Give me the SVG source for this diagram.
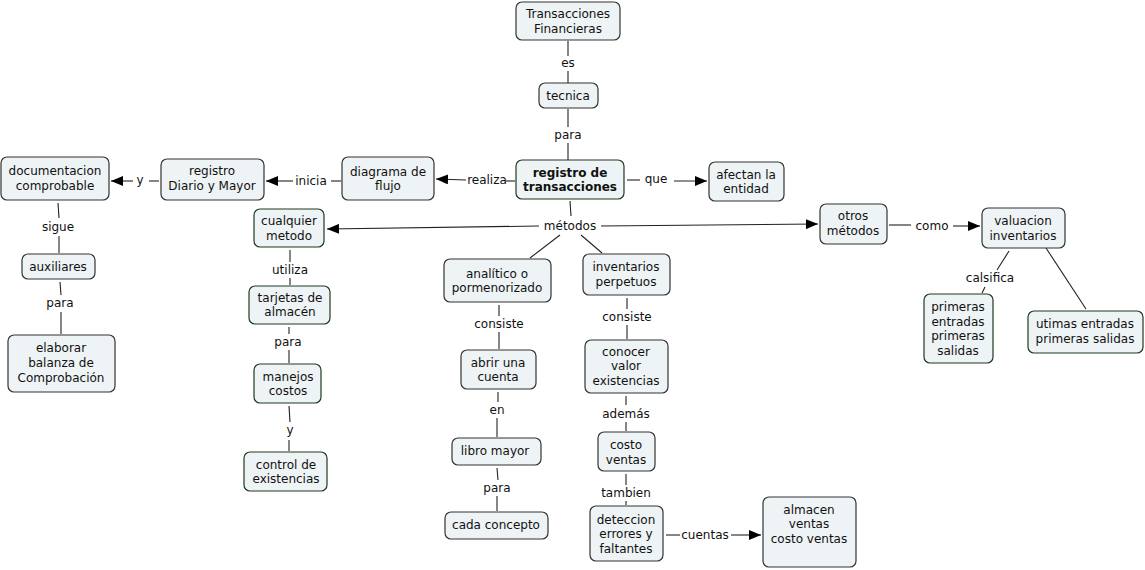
<svg xmlns="http://www.w3.org/2000/svg" width="1145" height="570" viewBox="0 0 1145 570">
<defs>
<marker id="arr" viewBox="0 0 12 10" refX="12" refY="5" markerWidth="12" markerHeight="10" markerUnits="userSpaceOnUse" orient="auto">
<path d="M0,0 L12,5 L0,10 z" fill="#000"/>
</marker>
<style>
.n rect{fill:#eef3f5;stroke:#333;stroke-width:1.2}
.g rect{fill:#eef3f5;stroke:#1e3a1e;stroke-width:1.2}
text{font-family:"DejaVu Sans",Verdana,sans-serif;font-size:12px;fill:#111;text-anchor:middle}
.b{font-weight:bold}
#connectors line,#connectors path{stroke:#222;stroke-width:1.1;fill:none}
.a{marker-end:url(#arr)}
</style>
</defs>
<rect width="1145" height="570" fill="#fff"/>
<g id="connectors">
<line x1="568" y1="41" x2="568" y2="56"/><line x1="568" y1="71" x2="568" y2="83"/>
<line x1="568" y1="109" x2="568" y2="127"/><line x1="568" y1="143" x2="568" y2="160"/>
<line x1="515" y1="181" x2="506" y2="181"/><line class="a" x1="466" y1="180" x2="436" y2="179"/>
<line x1="627" y1="180" x2="640" y2="180"/><line class="a" x1="674" y1="181" x2="707" y2="181"/>
<line x1="341" y1="181" x2="331" y2="181"/><line class="a" x1="293" y1="181" x2="266" y2="181"/>
<line x1="159" y1="181" x2="149" y2="181"/><line class="a" x1="133" y1="181" x2="111" y2="181"/>
<line x1="570" y1="201" x2="571" y2="216"/>
<line class="a" x1="539" y1="226" x2="327" y2="229"/>
<line class="a" x1="601" y1="226" x2="818" y2="224"/>
<line x1="560" y1="235" x2="530" y2="258"/><line x1="581" y1="235" x2="602" y2="253"/>
<line x1="58" y1="203" x2="59" y2="218"/><line x1="59" y1="236" x2="59" y2="253"/>
<line x1="60" y1="282" x2="61" y2="295"/><line x1="61" y1="312" x2="61" y2="334"/>
<line x1="290" y1="250" x2="290" y2="262"/><line x1="290" y1="278" x2="290" y2="285"/>
<line x1="289" y1="327" x2="289" y2="334"/><line x1="289" y1="350" x2="289" y2="363"/>
<line x1="289" y1="406" x2="290" y2="422"/><line x1="289" y1="440" x2="289" y2="451"/>
<line x1="499" y1="305" x2="499" y2="316"/><line x1="499" y1="332" x2="499" y2="349"/>
<line x1="498" y1="392" x2="498" y2="402"/><line x1="497" y1="418" x2="497" y2="437"/>
<line x1="497" y1="468" x2="498" y2="480"/><line x1="497" y1="496" x2="497" y2="511"/>
<line x1="627" y1="298" x2="627" y2="309"/><line x1="627" y1="325" x2="627" y2="339"/>
<line x1="626" y1="396" x2="626" y2="405"/><line x1="626" y1="422" x2="626" y2="431"/>
<line x1="626" y1="474" x2="626" y2="485"/><line x1="626" y1="501" x2="626" y2="505"/>
<line x1="666" y1="535" x2="680" y2="535"/><line class="a" x1="731" y1="535" x2="761" y2="535"/>
<line x1="889" y1="225" x2="911" y2="225"/><line class="a" x1="953" y1="226" x2="980" y2="226"/>
<line x1="1009" y1="251" x2="997" y2="270"/><line x1="985" y1="287" x2="982" y2="293"/>
<line x1="1046" y1="248" x2="1086" y2="309"/>
<g id="conn-labels">
<text x="568" y="67">es</text>
<text x="568" y="139">para</text>
<text x="487" y="184">realiza</text>
<text x="656" y="183">que</text>
<text x="311" y="185">inicia</text>
<text x="140" y="184">y</text>
<text x="570" y="230">métodos</text>
<text x="58" y="231">sigue</text>
<text x="60" y="307">para</text>
<text x="290" y="274">utiliza</text>
<text x="288" y="346">para</text>
<text x="290" y="434">y</text>
<text x="499" y="328">consiste</text>
<text x="497" y="414">en</text>
<text x="497" y="492">para</text>
<text x="627" y="321">consiste</text>
<text x="626" y="418">además</text>
<text x="626" y="497">tambien</text>
<text x="705" y="539">cuentas</text>
<text x="932" y="230">como</text>
<text x="990" y="282">calsifica</text>
</g>
</g>
<g id="n-transacciones" class="n"><rect x="516" y="2" width="104" height="38" rx="6"/><text x="568" y="18">Transacciones</text><text x="568" y="33">Financieras</text></g>
<g id="n-tecnica" class="n"><rect x="539" y="83" width="59" height="25" rx="6"/><text x="568" y="100">tecnica</text></g>
<g id="n-registro" class="g"><rect x="516" y="160" width="108" height="39" rx="6"/><text class="b" x="570" y="177">registro de</text><text class="b" x="570" y="191">transacciones</text></g>
<g id="n-afectan" class="n"><rect x="709" y="162" width="75" height="39" rx="6"/><text x="746" y="179">afectan la</text><text x="746" y="193">entidad</text></g>
<g id="n-diagrama" class="n"><rect x="342" y="157" width="92" height="43" rx="6"/><text x="388" y="176">diagrama de</text><text x="388" y="190">flujo</text></g>
<g id="n-diario" class="n"><rect x="161" y="159" width="103" height="41" rx="6"/><text x="212" y="175">registro</text><text x="212" y="190">Diario y Mayor</text></g>
<g id="n-documentacion" class="n"><rect x="1" y="157" width="108" height="43" rx="6"/><text x="55" y="175">documentacion</text><text x="55" y="190">comprobable</text></g>
<g id="n-cualquier" class="g"><rect x="254" y="209" width="70" height="38" rx="6"/><text x="289" y="225">cualquier</text><text x="289" y="240">metodo</text></g>
<g id="n-auxiliares" class="n"><rect x="22" y="254" width="73" height="25" rx="6"/><text x="58" y="271">auxiliares</text></g>
<g id="n-elaborar" class="n"><rect x="8" y="335" width="107" height="57" rx="6"/><text x="61" y="352">elaborar</text><text x="61" y="367">balanza de</text><text x="61" y="382">Comprobación</text></g>
<g id="n-tarjetas" class="g"><rect x="249" y="286" width="81" height="38" rx="6"/><text x="290" y="302">tarjetas de</text><text x="290" y="316">almacén</text></g>
<g id="n-manejos" class="g"><rect x="254" y="364" width="67" height="39" rx="6"/><text x="288" y="381">manejos</text><text x="288" y="395">costos</text></g>
<g id="n-control" class="g"><rect x="244" y="452" width="83" height="39" rx="6"/><text x="286" y="469">control de</text><text x="286" y="483">existencias</text></g>
<g id="n-analitico" class="n"><rect x="444" y="259" width="107" height="43" rx="6"/><text x="497" y="278">analítico o</text><text x="497" y="292">pormenorizado</text></g>
<g id="n-perpetuos" class="n"><rect x="583" y="254" width="87" height="41" rx="6"/><text x="626" y="271">inventarios</text><text x="626" y="286">perpetuos</text></g>
<g id="n-abrir" class="n"><rect x="461" y="350" width="75" height="39" rx="6"/><text x="498" y="367">abrir una</text><text x="498" y="381">cuenta</text></g>
<g id="n-libro" class="n"><rect x="452" y="438" width="89" height="27" rx="6"/><text x="495" y="455">libro mayor</text></g>
<g id="n-cada" class="n"><rect x="445" y="512" width="103" height="27" rx="6"/><text x="496" y="529">cada concepto</text></g>
<g id="n-conocer" class="n"><rect x="585" y="340" width="83" height="53" rx="6"/><text x="626" y="356">conocer</text><text x="626" y="370">valor</text><text x="626" y="385">existencias</text></g>
<g id="n-costo" class="n"><rect x="598" y="432" width="57" height="39" rx="6"/><text x="626" y="449">costo</text><text x="626" y="464">ventas</text></g>
<g id="n-deteccion" class="n"><rect x="590" y="506" width="73" height="55" rx="6"/><text x="626" y="524">deteccion</text><text x="626" y="538">errores y</text><text x="626" y="553">faltantes</text></g>
<g id="n-almacen" class="n"><rect x="763" y="497" width="93" height="70" rx="6"/><text x="809" y="514">almacen</text><text x="809" y="528">ventas</text><text x="809" y="543">costo ventas</text></g>
<g id="n-otros" class="n"><rect x="820" y="204" width="67" height="40" rx="6"/><text x="853" y="220">otros</text><text x="853" y="235">métodos</text></g>
<g id="n-valuacion" class="n"><rect x="982" y="208" width="83" height="40" rx="6"/><text x="1023" y="225">valuacion</text><text x="1023" y="240">inventarios</text></g>
<g id="n-primeras" class="g"><rect x="924" y="294" width="69" height="69" rx="6"/><text x="958" y="311">primeras</text><text x="958" y="326">entradas</text><text x="958" y="340">primeras</text><text x="958" y="355">salidas</text></g>
<g id="n-utimas" class="g"><rect x="1028" y="311" width="115" height="42" rx="6"/><text x="1085" y="328">utimas entradas</text><text x="1085" y="343">primeras salidas</text></g>
</svg>
